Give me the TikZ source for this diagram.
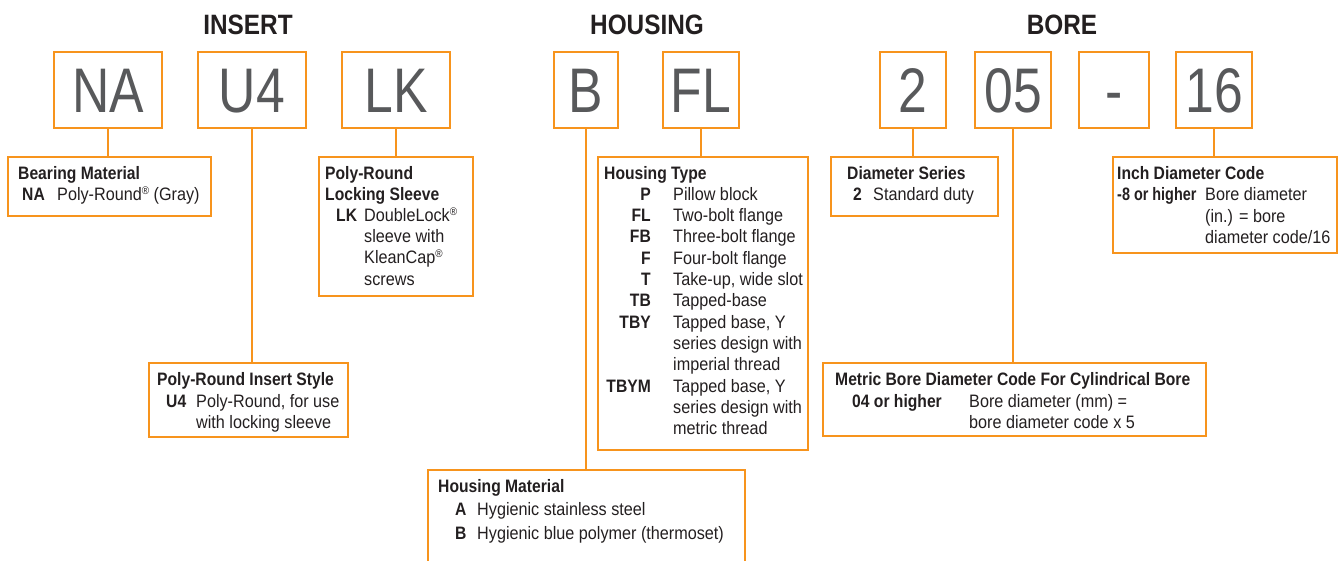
\documentclass[tikz,border=0pt]{standalone}
\usepackage{fontspec}
\setmainfont{Liberation Sans}[FakeStretch=0.9, BoldFeatures={FakeStretch=0.87}]
\newfontfamily\codefont{Liberation Sans}[FakeStretch=0.82]
\definecolor{org}{HTML}{F7941D}
\definecolor{txt}{HTML}{231F20}
\definecolor{codegray}{HTML}{58595B}
\newcommand{\reg}{\raisebox{0.6ex}{\fontsize{11}{11}\selectfont ®}}
\begin{document}
\begin{tikzpicture}[x=1pt,y=-1pt,
  codebox/.style={draw=org, line width=1.8pt, inner sep=0pt, outer sep=0pt,
    minimum height=76pt, text height=45pt, text depth=0pt, text=codegray,
    font=\codefont\fontsize{63}{63}\selectfont},
  descbox/.style={draw=org, line width=1.8pt, inner sep=0pt, outer sep=0pt, anchor=north west},
  openbox/.style={inner sep=0pt, outer sep=0pt, anchor=north west},
  conn/.style={draw=org, line width=1.8pt},
  t/.style={anchor=base west, inner sep=0pt, text=txt, font=\fontsize{18}{21}\selectfont},
  tb/.style={t, font=\fontsize{18}{21}\selectfont\bfseries},
  tr/.style={anchor=base east, inner sep=0pt, text=txt, font=\fontsize{18}{21}\selectfont\bfseries},
  head/.style={anchor=base, inner sep=0pt, text=txt, font=\fontsize{28}{28}\selectfont\bfseries}]
\useasboundingbox (0,0) rectangle (1339,560);

% headings
\node[head] (hInsert) at (248,34) {INSERT};
\node[head] (hHousing) at (647,34) {HOUSING};
\node[head] (hBore) at (1062,34) {BORE};

% code boxes
\node[codebox, minimum width=108pt] (NA) at (108,90) {NA};
\node[codebox, minimum width=108pt] (U4) at (252,90) {U4};
\node[codebox, minimum width=108pt] (LK) at (396,90) {LK};
\node[codebox, minimum width=64pt] (B) at (586,90) {B};
\node[codebox, minimum width=76pt] (FL) at (701,90) {FL};
\node[codebox, minimum width=66pt] (C2) at (913,90) {2};
\node[codebox, minimum width=76pt] (C05) at (1013,90) {05};
\node[codebox, minimum width=70pt] (Cdash) at (1114,90) {-};
\node[codebox, minimum width=76pt] (C16) at (1214,90) {16};

% description boxes
\node[descbox, minimum width=203pt, minimum height=59pt] (bm) at (8,157) {};
\node[descbox, minimum width=154pt, minimum height=139pt] (lk) at (319,157) {};
\node[descbox, minimum width=199pt, minimum height=74pt] (u4) at (149,363) {};
\node[descbox, minimum width=210pt, minimum height=293pt] (ht) at (598,157) {};
\node[openbox, minimum width=317pt, minimum height=92pt] (hm) at (428,470) {};
\draw[conn] (hm.south west) -- (hm.north west) -- (hm.north east) -- (hm.south east);
\node[descbox, minimum width=167pt, minimum height=59pt] (ds) at (831,157) {};
\node[descbox, minimum width=383pt, minimum height=73pt] (me) at (823,363) {};
\node[descbox, minimum width=224pt, minimum height=96pt] (ic) at (1113,157) {};

% connectors
\draw[conn] (NA.south) -- (NA.south |- bm.north);
\draw[conn] (U4.south) -- (U4.south |- u4.north);
\draw[conn] (LK.south) -- (LK.south |- lk.north);
\draw[conn] (B.south) -- (B.south |- hm.north);
\draw[conn] (FL.south) -- (FL.south |- ht.north);
\draw[conn] (C2.south) -- (C2.south |- ds.north);
\draw[conn] (C05.south) -- (C05.south |- me.north);
\draw[conn] (C16.south) -- (C16.south |- ic.north);

% Bearing Material
\node[tb] (bm1) at (18,179) {Bearing Material};
\node[tb] (bm2) at (22,200) {NA};
\node[t] (bm3) at (57,200) {Poly-Round\reg{} (Gray)};

% Locking sleeve
\node[tb] (lk1) at (325,179) {Poly-Round};
\node[tb] (lk2) at (325,200) {Locking Sleeve};
\node[tb] (lk3) at (336,221) {LK};
\node[t] (lk4) at (364,221) {DoubleLock\reg};
\node[t] (lk5) at (364,242) {sleeve with};
\node[t] (lk6) at (364,263) {KleanCap\reg};
\node[t] (lk7) at (364,285) {screws};

% Insert style
\node[tb] (us1) at (157,385) {Poly-Round Insert Style};
\node[tb] (us2) at (166,407) {U4};
\node[t] (us3) at (196,407) {Poly-Round, for use};
\node[t] (us4) at (196,428) {with locking sleeve};

% Housing type
\node[tb] (ht0) at (604,179) {Housing Type};
\node[tr] (htc1) at (651,200.3) {P};
\node[t] (htd1) at (673,200.3) {Pillow block};
\node[tr] (htc2) at (651,221.6) {FL};
\node[t] (htd2) at (673,221.6) {Two-bolt flange};
\node[tr] (htc3) at (651,242.9) {FB};
\node[t] (htd3) at (673,242.9) {Three-bolt flange};
\node[tr] (htc4) at (651,264.2) {F};
\node[t] (htd4) at (673,264.2) {Four-bolt flange};
\node[tr] (htc5) at (651,285.5) {T};
\node[t] (htd5) at (673,285.5) {Take-up, wide slot};
\node[tr] (htc6) at (651,306.8) {TB};
\node[t] (htd6) at (673,306.8) {Tapped-base};
\node[tr] (htc7) at (651,328.1) {TBY};
\node[t] (htd7) at (673,328.1) {Tapped base, Y};
\node[t] (htd8) at (673,349.4) {series design with};
\node[t] (htd9) at (673,370.7) {imperial thread};
\node[tr] (htc10) at (651,392) {TBYM};
\node[t] (htd10) at (673,392) {Tapped base, Y};
\node[t] (htd11) at (673,413.3) {series design with};
\node[t] (htd12) at (673,434.6) {metric thread};

% Housing material
\node[tb] (hm1) at (438,492) {Housing Material};
\node[tb] (hm2) at (455,515) {A};
\node[t] (hm3) at (477,515) {Hygienic stainless steel};
\node[tb] (hm4) at (455,539) {B};
\node[t] (hm5) at (477,539) {Hygienic blue polymer (thermoset)};

% Diameter series
\node[tb] (ds1) at (847,179) {Diameter Series};
\node[tb] (ds2) at (853,200) {2};
\node[t] (ds3) at (873,200) {Standard duty};

% Metric bore
\node[tb] (me1) at (835,385) {Metric Bore Diameter Code For Cylindrical Bore};
\node[tb] (me2) at (852,407) {04 or higher};
\node[t] (me3) at (969,407) {Bore diameter (mm) =};
\node[t] (me4) at (969,428) {bore diameter code x 5};

% Inch diameter
\node[tb] (ic1) at (1117,179) {Inch Diameter Code};
\node[tb] (ic2) at (1117,200) {\scalebox{0.92}[1]{-8 or higher}};
\node[t] (ic3) at (1205,200) {Bore diameter};
\node[t] (ic4) at (1205,222) {(in.) = bore};
\node[t] (ic5) at (1205,243) {diameter code/16};
\end{tikzpicture}
\end{document}
